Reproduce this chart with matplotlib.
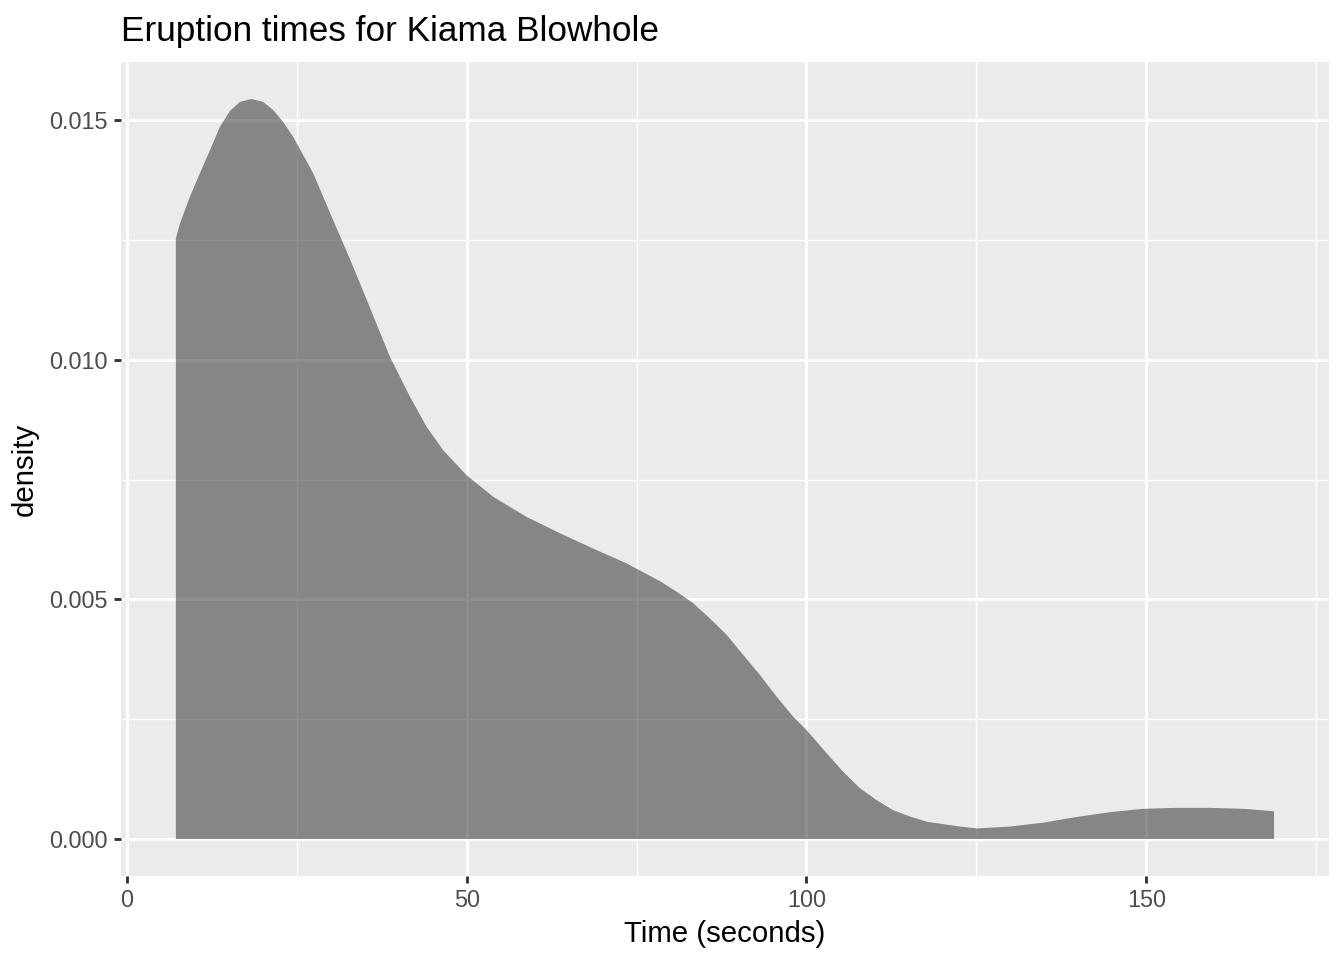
import numpy as np
import matplotlib.pyplot as plt
from matplotlib.ticker import MultipleLocator

plt.rcParams['font.family'] = ['Liberation Sans', 'DejaVu Sans']

# density estimate of eruption times
time_s = [7.21, 7.80, 9.27, 10.74, 12.22, 13.69, 15.16, 16.63, 18.35, 20.06,
          21.53, 23.00, 24.47, 25.95, 27.42, 28.89, 30.36, 31.83, 33.30, 34.78,
          36.64, 38.71, 41.65, 44.11, 46.55, 49.99, 53.91, 58.82, 63.72, 68.62,
          73.54, 78.44, 80.90, 83.34, 85.80, 88.26, 90.70, 93.16, 95.61, 98.06,
          100.03, 102.97, 105.42, 107.87, 110.33, 112.77, 115.23, 117.69, 122.59,
          125.05, 129.95, 134.80, 139.76, 144.67, 149.52, 154.48, 159.38, 164.24,
          168.80]
density = [0.01253, 0.01284, 0.01340, 0.01389, 0.01437, 0.01486, 0.01519, 0.01538,
           0.01544, 0.01538, 0.01521, 0.01496, 0.01465, 0.01427, 0.01389, 0.01340,
           0.01291, 0.01243, 0.01194, 0.01143, 0.01078, 0.01006, 0.00923, 0.00860,
           0.00811, 0.00759, 0.00714, 0.00672, 0.00638, 0.00606, 0.00575, 0.00538,
           0.00516, 0.00492, 0.00460, 0.00426, 0.00384, 0.00342, 0.00297, 0.00255,
           0.00227, 0.00179, 0.00140, 0.00106, 0.00081, 0.00060, 0.00047, 0.00036,
           0.00026, 0.00022, 0.00026, 0.00034, 0.00046, 0.00056, 0.00063, 0.00065,
           0.00065, 0.00063, 0.00058]

fig = plt.figure(figsize=(7, 5), dpi=192)
ax = fig.add_axes([0.090, 0.0875, 0.8988, 0.8479])

ax.set_facecolor('#EBEBEB')
for s in ax.spines.values():
    s.set_visible(False)

ax.fill_between(time_s, 0, density, facecolor='#333333', alpha=0.55,
                linewidth=0, zorder=3)

xr = max(time_s) - min(time_s)
ax.set_xlim(min(time_s) - 0.05 * xr, max(time_s) + 0.05 * xr)
yr = max(density)
ax.set_ylim(-0.05 * yr, yr * 1.05)

ax.xaxis.set_major_locator(MultipleLocator(50))
ax.xaxis.set_minor_locator(MultipleLocator(25))
ax.yaxis.set_major_locator(MultipleLocator(0.005))
ax.yaxis.set_minor_locator(MultipleLocator(0.0025))
ax.set_yticks([0, 0.005, 0.010, 0.015])
ax.set_yticklabels(['0.000', '0.005', '0.010', '0.015'])

ax.grid(which='major', color='white', linewidth=1.07, zorder=1)
ax.grid(which='minor', color='white', linewidth=0.53, zorder=1)
ax.set_axisbelow(True)

ax.tick_params(which='major', length=2.75, width=1.07, color='#333333',
               labelsize=8.8, labelcolor='#4D4D4D', pad=2.2)
ax.tick_params(which='minor', length=0)

ax.set_xlabel('Time (seconds)', fontsize=11, color='black', labelpad=3)
ax.set_ylabel('density', fontsize=11, color='black', labelpad=4)
ax.set_title('Eruption times for Kiama Blowhole', loc='left', fontsize=13.2,
             color='black', pad=8)

fig.savefig('out.png', dpi=192)
